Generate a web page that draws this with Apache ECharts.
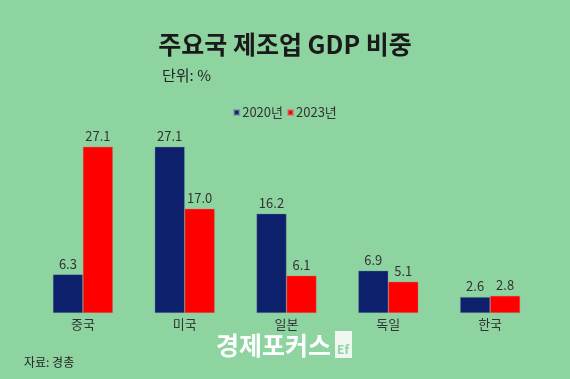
<!DOCTYPE html>
<html><head><meta charset="utf-8">
<script src="https://cdn.jsdelivr.net/npm/echarts@6/dist/echarts.min.js"></script>
<style>html,body{margin:0;padding:0;background:#8ed4a0;}#c{width:570px;height:379px;}</style>
</head><body><div id="c"></div>
<script>
const categories = ['중국','미국','일본','독일','한국'];
const series2020 = [6.3, 27.1, 16.2, 6.9, 2.6];
const series2023 = [27.1, 17.0, 6.1, 5.1, 2.8];
const seriesNames = ['2020년','2023년'];
const FONT = '"Noto Sans CJK KR", "Noto Sans", sans-serif';
const chart = echarts.init(document.getElementById('c'));
const lbl = {show:true, position:'top', color:'#333', fontSize:13, fontFamily:FONT, distance:4, formatter: p => p.value.toFixed(1)};
chart.setOption({
  backgroundColor:'#8ed4a0',
  textStyle:{fontFamily:FONT},
  title:[
    {text:'주요국 제조업 GDP 비중', left:'center', top:27, textStyle:{fontSize:25, fontWeight:'bold', color:'#1a1a1a', fontFamily:FONT}},
    {text:'단위: %', left:157, top:63, textStyle:{fontSize:15, fontWeight:'normal', color:'#222', fontFamily:FONT}},
    {text:'자료: 경총', left:19, top:351, textStyle:{fontSize:12, fontWeight:'normal', color:'#222', fontFamily:FONT}}
  ],
  graphic:[
    {type:'text', left:216, top:333, style:{text:'경제포커스', fontSize:25, fontWeight:'bold', fill:'#ffffff', fontFamily:FONT}},
    {type:'rect', shape:{x:335, y:331, width:17, height:27}, style:{fill:'#eef7f0'}},
    {type:'text', left:337, top:343, style:{text:'Ef', fontSize:12, fontWeight:'bold', fill:'#8ed4a0', fontFamily:FONT}}
  ],
  legend:{data:seriesNames, top:101, left:'center', itemWidth:5, itemHeight:5, itemGap:4, icon:'rect',
    textStyle:{fontSize:13, color:'#333', fontFamily:FONT, padding:[0,0,0,-2]}},
  grid:{left:32, right:29, top:129, bottom:66},
  xAxis:{type:'category', data:categories, axisLine:{show:false}, axisTick:{show:false},
    axisLabel:{color:'#333', fontSize:13, margin:5, fontFamily:FONT}},
  yAxis:{type:'value', min:0, max:30, show:false, splitLine:{show:false}},
  series:[
    {name:seriesNames[0], type:'bar', data:series2020, barWidth:30, barGap:'0%',
      itemStyle:{color:'#0c206b', borderColor:'rgba(120,140,160,0.6)', borderWidth:0.6}, label:lbl},
    {name:seriesNames[1], type:'bar', data:series2023, barWidth:30,
      itemStyle:{color:'#ff0000', borderColor:'rgba(200,120,120,0.6)', borderWidth:0.6}, label:lbl}
  ]
});
</script></body></html>
